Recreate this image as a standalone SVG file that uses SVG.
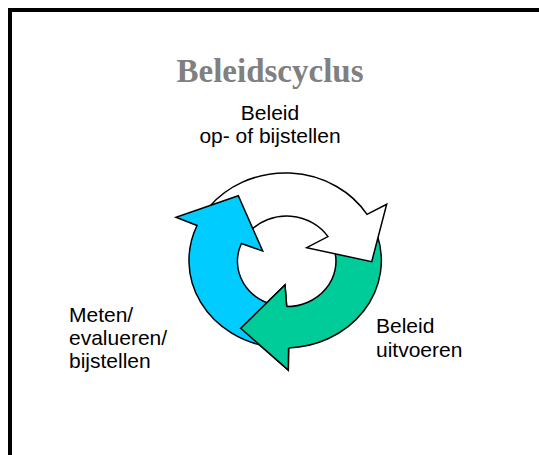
<svg xmlns="http://www.w3.org/2000/svg" width="539" height="455" viewBox="0 0 539 455">
<style>
.lbl{font-family:"Liberation Sans",Arial,sans-serif;font-size:21px;fill:#000}
.title{font-family:"Liberation Serif","Times New Roman",serif;font-size:33px;font-weight:bold;fill:#808080}
.arr{stroke:#000;stroke-width:1.5;stroke-linejoin:miter}
</style>
<rect x="10" y="10" width="560" height="480" fill="#fff" stroke="#000" stroke-width="4"/>
<g id="title"><text class="title" x="270" y="82" text-anchor="middle">Beleidscyclus</text></g>
<g id="connectors">
<g id="arrow-green">
<path class="arr" fill="#00CC99" d="M 240.7,328.3 L 285,285 L 286.7,306.6 A 49.3 45.3 0 0 0 334.4,250.0 L 377.2,235.0 A 96.2 87.5 0 0 1 288.6,347.9 L 288.3,370 Z"/>
</g>
<g id="arrow-white">
<path class="arr" fill="#fff" d="M 367.0,214.4 L 386.7,204.3 L 371.7,261.7 L 306.7,247.7 L 328.0,236.6 A 49.3 45.3 0 0 0 250.6,230.5 L 209.1,207.0 A 96.2 87.5 0 0 1 367.0,214.4 Z"/>
</g>
<g id="arrow-blue">
<path class="arr" fill="#00CCFF" d="M 197.0,225.5 A 96.2 87.5 0 0 0 270,346.9 L 278,305.9 A 49.3 45.3 0 0 1 241.4,243.5 L 262.7,251 L 238.3,195.7 L 176,217.3 Z"/>
</g>
<g id="arrow-green-head">
<polygon fill="#00CC99" points="240.7,328.3 285,285 286.7,306.6 288.6,347.9 288.3,370"/>
<polyline class="arr" fill="none" points="286.7,306.6 285,285 240.7,328.3 288.3,370 288.6,347.9"/>
</g>
</g>
<g id="node-top">
<text class="lbl" x="270" y="120" text-anchor="middle">Beleid</text>
<text class="lbl" x="270" y="143" text-anchor="middle">op- of bijstellen</text>
</g>
<g id="node-left">
<text class="lbl" x="69" y="322">Meten/</text>
<text class="lbl" x="69" y="345">evalueren/</text>
<text class="lbl" x="69" y="368">bijstellen</text>
</g>
<g id="node-right">
<text class="lbl" x="376" y="333">Beleid</text>
<text class="lbl" x="376" y="357">uitvoeren</text>
</g>
</svg>
